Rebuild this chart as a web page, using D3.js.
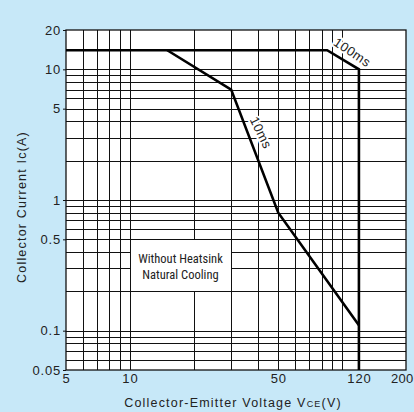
<!DOCTYPE html>
<html>
<head>
<meta charset="utf-8">
<script src="https://cdn.jsdelivr.net/npm/d3@7"></script>
<style>
  html, body { margin: 0; padding: 0; background: #c7e8f8; }
  svg { display: block; }
  text { font-family: "Liberation Sans", Arial, sans-serif; fill: #222; }
</style>
</head>
<body>
<script>
// ---- data ----
const xTickValues = [5, 10, 50, 120, 200];
const yTickValues = [0.05, 0.1, 0.5, 1, 5, 10, 20];
const xGridValues = [6, 7, 8, 9, 10, 20, 30, 40, 50, 60, 70, 80, 90, 100];
const yGridValues = [0.06, 0.07, 0.08, 0.09, 0.1, 0.2, 0.3, 0.4, 0.5, 0.6, 0.7, 0.8, 0.9, 1, 2, 3, 4, 5, 6, 7, 8, 9, 10];
const curve100msV = [5, 85, 120, 120];
const curve100msI = [14, 14, 10, 0.05];
const curve10msV = [15, 30, 50, 120];
const curve10msI = [14, 7, 0.8, 0.11];
const noteBoxV = [10, 30];
const noteBoxI = [0.5, 0.2];
const noteLines = ["Without Heatsink", "Natural Cooling"];
const label100ms = { text: "100ms", v: 111, i: 13.3 };
const label10ms = { text: "10ms", v: 41, i: 3.25 };

// ---- layout ----
const W = 414, H = 412;
const m = { left: 66, right: 8, top: 30, bottom: 42 };
const svg = d3.select("body").append("svg").attr("width", W).attr("height", H);

const x = d3.scaleLog().domain([5, 200]).range([m.left, W - m.right]);
const y = d3.scaleLog().domain([0.05, 20]).range([H - m.bottom, m.top]);

const g = svg.append("g");
g.append("rect")
  .attr("x", x(5)).attr("y", y(20))
  .attr("width", x(200) - x(5)).attr("height", y(0.05) - y(20))
  .attr("fill", "#fff");

// grid
g.selectAll(".vg").data(xGridValues).join("line")
  .attr("x1", d => Math.round(x(d)) + 0.5).attr("x2", d => Math.round(x(d)) + 0.5)
  .attr("y1", y(20)).attr("y2", y(0.05))
  .attr("stroke", "#111").attr("stroke-width", 1);
g.selectAll(".hg").data(yGridValues).join("line")
  .attr("y1", d => Math.round(y(d)) + 0.5).attr("y2", d => Math.round(y(d)) + 0.5)
  .attr("x1", x(5)).attr("x2", x(200))
  .attr("stroke", "#111").attr("stroke-width", 1);

// axes (ticks + labels)
const yAxis = d3.axisLeft(y).tickValues(yTickValues).tickFormat(d3.format("~g")).tickSize(3).tickPadding(2);
const ya = svg.append("g").attr("transform", `translate(${x(5)},0)`).call(yAxis);
ya.select(".domain").remove();
ya.selectAll("line").attr("stroke", "#111");
ya.selectAll("text").style("font-size", "13px").style("letter-spacing", "0.8px").attr("fill", "#222")
  .attr("font-family", "Liberation Sans, Arial, sans-serif");

const xAxis = d3.axisBottom(x).tickValues(xTickValues).tickFormat(d3.format("~g")).tickSize(0).tickPadding(4);
const xa = svg.append("g").attr("transform", `translate(0,${y(0.05)})`).call(xAxis);
xa.select(".domain").remove();
xa.selectAll("text").style("font-size", "13px").style("letter-spacing", "0.8px").attr("fill", "#222")
  .attr("font-family", "Liberation Sans, Arial, sans-serif");
// keep the last label inside the picture
xa.selectAll(".tick").filter(d => d === 200).select("text")
  .attr("text-anchor", "end").attr("x", W - 1 - x(200)).style("letter-spacing", "0.3px");

// note box
const bx0 = x(noteBoxV[0]), bx1 = x(noteBoxV[1]), by0 = y(noteBoxI[0]), by1 = y(noteBoxI[1]);
g.append("rect")
  .attr("x", Math.round(bx0) + 0.5).attr("y", Math.round(by0) + 0.5)
  .attr("width", Math.round(bx1) - Math.round(bx0)).attr("height", Math.round(by1) - Math.round(by0))
  .attr("fill", "#fff").attr("stroke", "#111").attr("stroke-width", 1);
g.selectAll(".note").data(noteLines).join("text")
  .attr("x", (bx0 + bx1) / 2)
  .attr("y", (d, i) => (by0 + by1) / 2 - 6 + i * 16)
  .attr("text-anchor", "middle")
  .attr("dominant-baseline", "middle")
  .style("font-family", "'Liberation Sans Narrow', 'Arial Narrow', 'Roboto Condensed', sans-serif")
  .style("font-size", "12.5px")
  .attr("fill", "#333")
  .text(d => d);

// frame
g.append("rect")
  .attr("x", x(5)).attr("y", y(20))
  .attr("width", x(200) - x(5)).attr("height", y(0.05) - y(20))
  .attr("fill", "none").attr("stroke", "#111").attr("stroke-width", 1.3);

// curves
const line = d3.line().x(d => x(d[0])).y(d => y(d[1]));
const c100 = curve100msV.map((v, i) => [v, curve100msI[i]]);
const c10 = curve10msV.map((v, i) => [v, curve10msI[i]]);
g.append("path").attr("d", line(c100)).attr("fill", "none").attr("stroke", "#000").attr("stroke-width", 2.6);
g.append("path").attr("d", line(c10)).attr("fill", "none").attr("stroke", "#000").attr("stroke-width", 2.6);

// curve labels
function curveLabel(lbl, angle) {
  g.append("text")
    .attr("transform", `translate(${x(lbl.v)},${y(lbl.i)}) rotate(${angle})`)
    .attr("text-anchor", "middle").attr("dominant-baseline", "middle")
    .style("font-size", "13px").style("letter-spacing", "0.5px")
    .attr("stroke", "#fff").attr("stroke-width", 4).attr("paint-order", "stroke")
    .attr("fill", "#111")
    .text(lbl.text);
}
curveLabel(label100ms, 33.7);
curveLabel(label10ms, 64);

// axis titles
const xt = svg.append("text")
  .attr("x", (x(5) + x(200)) / 2 - 3).attr("y", 407)
  .attr("text-anchor", "middle")
  .style("font-size", "12.5px").style("letter-spacing", "1.2px");
xt.append("tspan").text("Collector-Emitter Voltage V");
xt.append("tspan").style("font-size", "9px").text("CE");
xt.append("tspan").text("(V)");

svg.append("text")
  .attr("transform", `translate(26,207) rotate(-90)`)
  .attr("text-anchor", "middle")
  .style("font-size", "12.5px").style("letter-spacing", "1.2px")
  .text("Collector Current Ic(A)");
</script>
</body>
</html>
